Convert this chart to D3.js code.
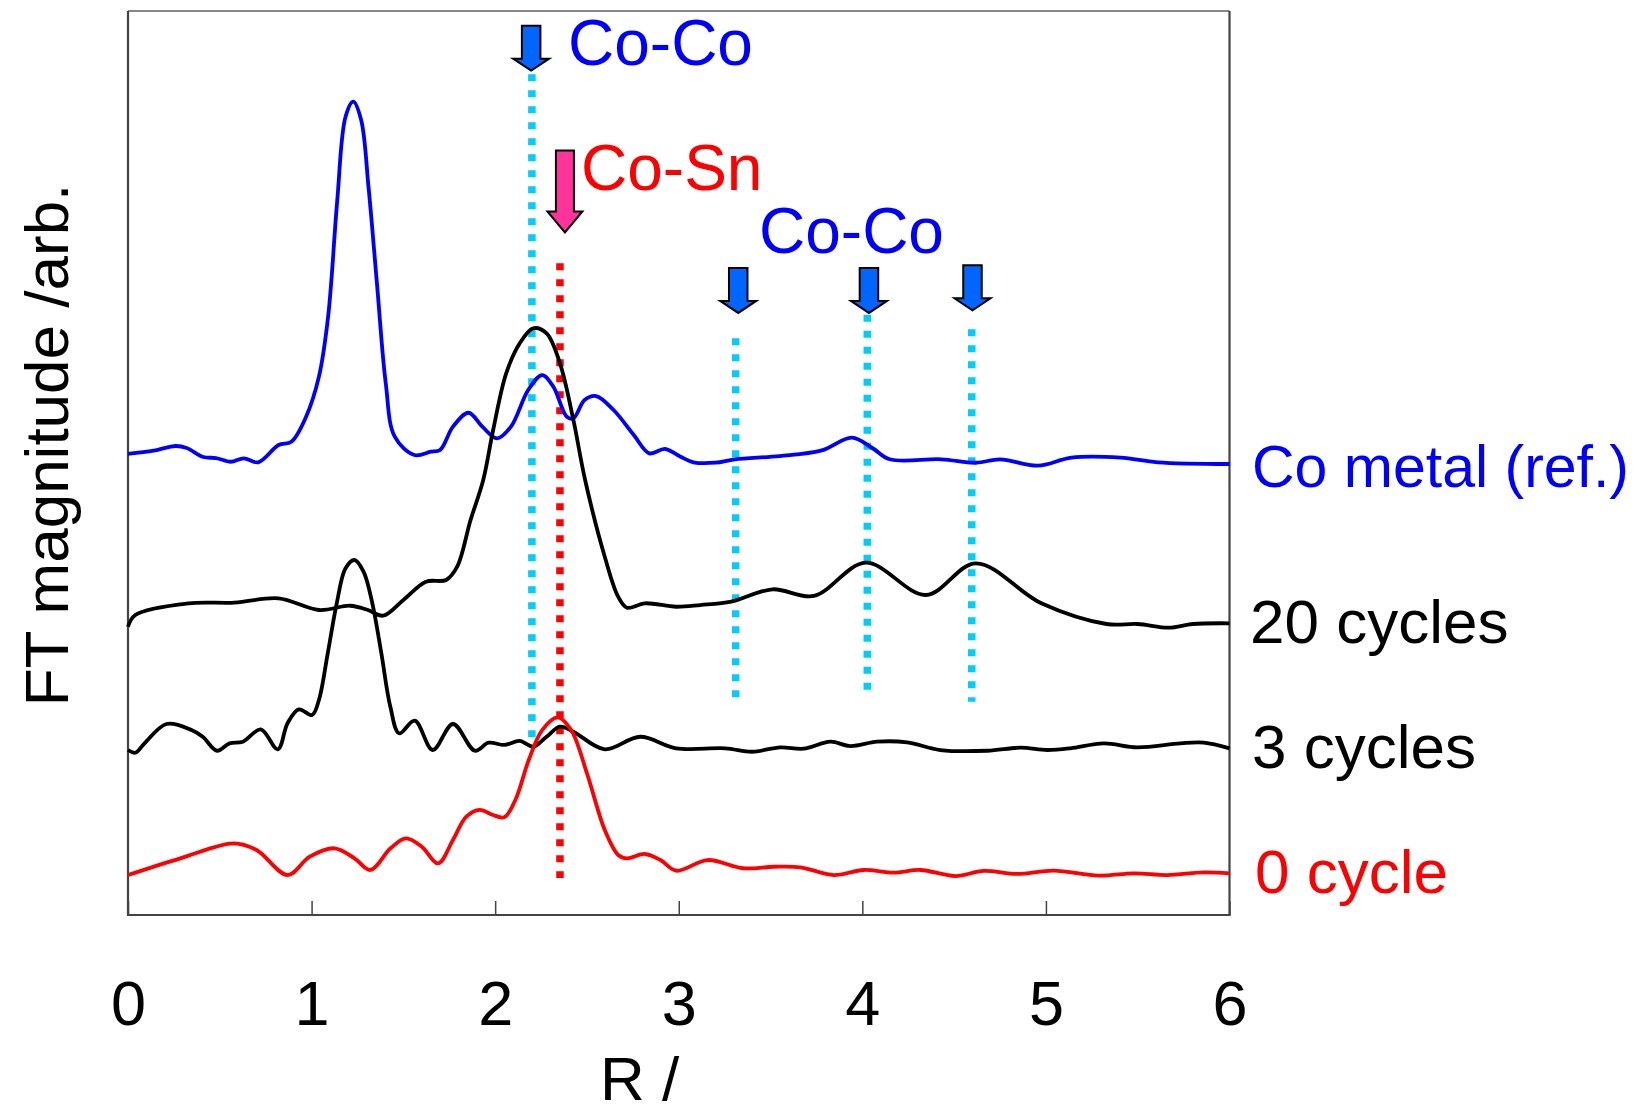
<!DOCTYPE html>
<html>
<head>
<meta charset="utf-8">
<script src="https://cdn.jsdelivr.net/npm/d3@7"></script>
<style>
  html, body { margin: 0; padding: 0; background: #fff; }
  svg { display: block; font-family: "Liberation Sans", Arial, sans-serif; }
</style>
</head>
<body>
<svg id="chart" width="1643" height="1115"></svg>
<script>
// R in Angstrom, FT magnitude in arb. units (curves are stacked with offsets)
const seriesNames = ["Co metal (ref.)", "20 cycles", "3 cycles", "0 cycle"];

const coMetal = [
  [0.00, 51.00], [0.14, 51.36], [0.26, 51.88], [0.32, 51.66], [0.41, 50.66], [0.48, 50.55],
  [0.56, 50.14], [0.63, 50.52], [0.71, 50.08], [0.82, 51.99], [0.89, 52.36], [0.97, 55.12],
  [1.04, 59.55], [1.09, 66.18], [1.14, 79.09], [1.185, 88.31], [1.227, 89.97], [1.27, 87.94],
  [1.31, 80.56], [1.356, 69.88], [1.404, 58.82], [1.453, 52.91], [1.56, 50.88], [1.65, 51.25],
  [1.70, 51.44], [1.77, 54.02], [1.855, 55.56], [1.93, 54.02], [2.01, 52.73], [2.086, 54.02],
  [2.18, 58.08], [2.256, 59.73], [2.317, 58.44], [2.39, 55.12], [2.426, 54.94], [2.487, 56.97],
  [2.55, 57.41], [2.645, 55.86], [2.755, 53.10], [2.84, 51.07], [2.925, 51.55], [3.01, 50.70],
  [3.08, 50.08], [3.20, 50.03], [3.305, 50.41], [3.549, 50.77], [3.774, 51.36], [3.943, 52.80],
  [4.056, 51.63], [4.149, 50.41], [4.43, 50.41], [4.619, 50.03], [4.75, 50.41], [4.956, 49.70],
  [5.14, 50.59], [5.406, 50.59], [5.61, 50.08], [6.00, 49.89]
];

const cycles20 = [
  [0.00, 31.89], [0.04, 33.19], [0.33, 34.48], [0.58, 34.55], [0.82, 35.03], [1.04, 33.74],
  [1.21, 34.21], [1.307, 33.74], [1.39, 33.11], [1.50, 34.85], [1.623, 36.87], [1.733, 37.06],
  [1.793, 38.53], [1.866, 43.69], [1.935, 48.12], [1.989, 53.65], [2.06, 59.92], [2.134, 63.24],
  [2.207, 64.90], [2.28, 64.35], [2.353, 61.03], [2.426, 54.76], [2.49, 48.12], [2.597, 39.63],
  [2.67, 35.21], [2.718, 33.99], [2.815, 34.48], [2.986, 34.10], [3.117, 34.29], [3.286, 34.66],
  [3.51, 36.03], [3.736, 35.29], [4.018, 38.97], [4.346, 35.40], [4.619, 38.90], [4.975, 34.48],
  [5.33, 32.19], [5.50, 32.19], [5.67, 31.78], [5.80, 32.19], [6.00, 32.27]
];

const cycles3 = [
  [0.00, 18.25], [0.04, 17.95], [0.09, 18.99], [0.21, 21.13], [0.346, 20.46], [0.407, 19.72],
  [0.485, 18.17], [0.553, 18.99], [0.626, 19.17], [0.723, 20.54], [0.816, 18.33], [0.869, 21.21],
  [0.93, 22.75], [1.003, 22.12], [1.04, 23.78], [1.088, 28.95], [1.137, 34.48], [1.185, 38.35],
  [1.234, 39.27], [1.283, 37.98], [1.331, 34.48], [1.38, 28.95], [1.429, 23.04], [1.477, 20.10],
  [1.562, 21.49], [1.66, 18.25], [1.77, 21.13], [1.89, 18.17], [1.964, 19.06], [2.05, 18.81],
  [2.134, 19.25], [2.207, 18.62], [2.28, 19.72], [2.353, 20.83], [2.426, 20.28], [2.597, 18.33],
  [2.79, 19.72], [2.986, 18.44], [3.253, 18.44], [3.40, 18.06], [3.553, 18.55], [3.68, 18.40],
  [3.826, 19.17], [3.935, 18.69], [4.08, 19.17], [4.244, 19.10], [4.425, 18.25], [4.68, 18.17],
  [4.861, 18.51], [5.007, 18.25], [5.134, 18.44], [5.315, 18.99], [5.497, 18.55], [5.733, 18.99],
  [5.86, 19.06], [6.00, 18.44]
];

const cycle0 = [
  [0.00, 4.42], [0.285, 6.27], [0.577, 7.93], [0.70, 7.19], [0.87, 4.42], [0.99, 6.45],
  [1.125, 7.38], [1.234, 6.27], [1.32, 4.98], [1.43, 7.38], [1.514, 8.48], [1.60, 7.56],
  [1.69, 5.72], [1.77, 8.30], [1.843, 10.87], [1.916, 11.62], [1.989, 11.06], [2.05, 10.81],
  [2.11, 12.72], [2.183, 17.15], [2.256, 20.46], [2.341, 21.87], [2.414, 20.46], [2.50, 15.67],
  [2.597, 9.40], [2.67, 6.64], [2.718, 6.27], [2.815, 6.75], [2.90, 6.08], [2.986, 4.90],
  [3.156, 6.08], [3.351, 5.17], [3.52, 5.34], [3.662, 5.28], [3.844, 4.42], [4.007, 4.98],
  [4.17, 4.68], [4.316, 4.98], [4.507, 4.31], [4.66, 4.87], [4.843, 4.54], [5.042, 4.90],
  [5.288, 4.35], [5.479, 4.61], [5.66, 4.42], [5.86, 4.72], [6.00, 4.61]
];

const xTicks = [0, 1, 2, 3, 4, 5, 6];

// dotted guide lines: R position, top and bottom in arb. units, bond type
const guideR = [2.20, 2.353, 3.31, 4.027, 4.596];
const guideTop = [93.0, 72.1, 63.8, 66.4, 64.8];
const guideBottom = [18.6, 4.1, 24.1, 24.6, 23.6];
const guideBond = ["Co-Co", "Co-Sn", "Co-Co", "Co-Co", "Co-Co"];

// arrows: R position of the tip, tip height in arb. units, bond type
const arrowR = [2.196, 2.38, 3.324, 4.036, 4.60];
const arrowTip = [93.4, 75.5, 66.6, 66.6, 66.9];
const arrowBond = ["Co-Co", "Co-Sn", "Co-Co", "Co-Co", "Co-Co"];

const chartApp = {
    svg: null,
    width: 1643,
    height: 1115,
    plot: { left: 128, right: 1229.5, top: 11, bottom: 915 },
    seriesColors: ["#0000ff", "#000000", "#000000", "#ff0000"],
    guideColors: { "Co-Co": "#00ccff", "Co-Sn": "#ff0000" },
    arrowStyles: {
        "Co-Co": { fill: "#0066ff", shaft: 33, head: 12, shaftW: 18.5, headW: 36 },
        "Co-Sn": { fill: "#ff3399", shaft: 61, head: 21, shaftW: 18, headW: 35 }
    },

    init: function() {
        this.svg = d3.select("#chart");
        this.x = d3.scaleLinear().domain([0, 6]).range([this.plot.left, this.plot.right]);
        this.y = d3.scaleLinear().domain([0, 100]).range([this.plot.bottom, this.plot.top]);

        this.drawFrame();
        this.drawGuides();
        this.drawCurves();
        this.drawArrows();
        this.drawLabels();
    },

    drawFrame: function() {
        const p = this.plot;
        // axis with inward ticks
        const xAxis = d3.axisBottom(this.x)
            .tickValues(xTicks)
            .tickFormat(d3.format("d"))
            .tickSizeInner(-14)
            .tickSizeOuter(0)
            .tickPadding(65);

        const g = this.svg.append("g")
            .attr("transform", "translate(0," + p.bottom + ")")
            .call(xAxis);
        g.select(".domain").remove();
        g.selectAll(".tick line").attr("stroke", "#444").attr("stroke-width", 1.5);
        g.selectAll(".tick text")
            .attr("font-size", "63px")
            .attr("font-family", "'Liberation Sans', Arial, sans-serif")
            .attr("fill", "#000");

        // box round the plot
        this.svg.append("line")
            .attr("x1", p.left).attr("x2", p.right).attr("y1", p.top).attr("y2", p.top)
            .attr("stroke", "#888").attr("stroke-width", 2.2);
        this.svg.append("path")
            .attr("d", "M" + p.left + "," + p.top + "V" + p.bottom + "H" + p.right + "V" + p.top)
            .attr("fill", "none")
            .attr("stroke", "#444")
            .attr("stroke-width", 2.2);
    },

    drawGuides: function() {
        const self = this;
        const rows = guideR.map(function(r, i) {
            return { r: r, top: guideTop[i], bottom: guideBottom[i], bond: guideBond[i] };
        });
        this.svg.append("g").selectAll("line")
            .data(rows)
            .enter()
            .append("line")
            .attr("x1", function(d) { return self.x(d.r); })
            .attr("x2", function(d) { return self.x(d.r); })
            .attr("y1", function(d) { return self.y(d.top); })
            .attr("y2", function(d) { return self.y(d.bottom); })
            .attr("stroke", function(d) { return self.guideColors[d.bond]; })
            .attr("stroke-width", 7.5)
            .attr("stroke-dasharray", "7 9");
    },

    drawCurves: function() {
        const self = this;
        const line = d3.line()
            .x(function(d) { return self.x(d[0]); })
            .y(function(d) { return self.y(d[1]); })
            .curve(d3.curveCatmullRom.alpha(0.5));

        const allSeries = [coMetal, cycles20, cycles3, cycle0];
        this.svg.append("g").selectAll("path")
            .data(allSeries)
            .enter()
            .append("path")
            .attr("d", line)
            .attr("fill", "none")
            .attr("stroke", function(d, i) { return self.seriesColors[i]; })
            .attr("stroke-width", 3.8)
            .attr("stroke-linejoin", "round");
    },

    drawArrows: function() {
        const self = this;
        const rows = arrowR.map(function(r, i) {
            return { r: r, tip: arrowTip[i], bond: arrowBond[i] };
        });
        this.svg.append("g").selectAll("path")
            .data(rows)
            .enter()
            .append("path")
            .attr("d", function(d) {
                const s = self.arrowStyles[d.bond];
                const x = self.x(d.r), y = self.y(d.tip);
                const yHead = y - s.head, yTop = yHead - s.shaft;
                return "M" + (x - s.shaftW / 2) + "," + yTop +
                    "L" + (x + s.shaftW / 2) + "," + yTop +
                    "L" + (x + s.shaftW / 2) + "," + yHead +
                    "L" + (x + s.headW / 2) + "," + yHead +
                    "L" + x + "," + y +
                    "L" + (x - s.headW / 2) + "," + yHead +
                    "L" + (x - s.shaftW / 2) + "," + yHead + "Z";
            })
            .attr("fill", function(d) { return self.arrowStyles[d.bond].fill; })
            .attr("stroke", "#000")
            .attr("stroke-width", 2)
            .attr("stroke-linejoin", "miter");
    },

    drawLabels: function() {
        const svg = this.svg;

        // bond labels next to the arrows
        const bondText = [
            { t: "Co-Co", x: 568, y: 65, c: "#0000ff" },
            { t: "Co-Sn", x: 581, y: 190, c: "#ff0000" },
            { t: "Co-Co", x: 759, y: 253, c: "#0000ff" }
        ];
        svg.append("g").selectAll("text")
            .data(bondText)
            .enter()
            .append("text")
            .attr("x", function(d) { return d.x; })
            .attr("y", function(d) { return d.y; })
            .attr("font-size", "64px")
            .attr("fill", function(d) { return d.c; })
            .text(function(d) { return d.t; });

        // series names at the right of the box
        const nameX = [1252, 1250, 1252, 1255];
        const nameY = [487, 643, 768, 893];
        const nameSize = [59, 62, 62, 62];
        const self = this;
        svg.append("g").selectAll("text")
            .data(seriesNames)
            .enter()
            .append("text")
            .attr("x", function(d, i) { return nameX[i]; })
            .attr("y", function(d, i) { return nameY[i]; })
            .attr("font-size", function(d, i) { return nameSize[i] + "px"; })
            .attr("fill", function(d, i) { return self.seriesColors[i]; })
            .text(function(d) { return d; });

        // axis titles
        svg.append("text")
            .attr("transform", "translate(68,445) rotate(-90)")
            .attr("text-anchor", "middle")
            .attr("font-size", "62px")
            .attr("fill", "#000")
            .text("FT magnitude /arb.");

        svg.append("text")
            .attr("x", 600)
            .attr("y", 1100)
            .attr("font-size", "62px")
            .attr("fill", "#000")
            .text("R /");
    }
};

window.onload = function() {
    chartApp.init();
};
</script>
</body>
</html>
